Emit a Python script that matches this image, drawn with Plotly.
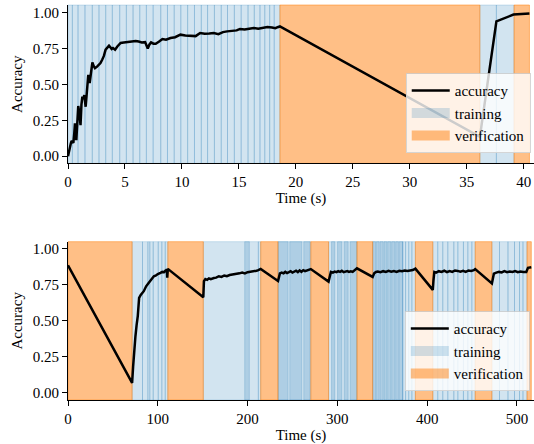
import plotly.graph_objects as go

# ---------------- data: top run ----------------
t_top = [0, 0.14, 0.25, 0.32, 0.47, 0.55, 0.61, 0.73, 0.82, 0.9, 1.0, 1.1, 1.18, 1.26, 1.35, 1.43,
         1.55, 1.65, 1.78, 1.9, 2.0, 2.14, 2.25, 2.37, 2.55, 2.72, 2.85, 3.0, 3.15, 3.3, 3.45, 3.6,
         3.72, 3.83, 3.95, 4.13, 4.33, 4.62, 4.9, 5.36, 5.65, 5.94, 6.2, 6.47, 6.77, 6.9, 7.0, 7.15,
         7.29, 7.5, 7.7, 8.0, 8.29, 8.6, 9.0, 9.4, 9.87, 10.3, 10.75, 11.2, 11.6, 12.0, 12.4, 12.8,
         13.2, 13.6, 13.97, 14.4, 14.8, 15.1, 15.5, 15.9, 16.3, 16.7, 17.1, 17.5, 17.9, 18.2, 18.4,
         18.6, 36.15, 37.6, 39.1, 40.5]
acc_top = [0.0, 0.065, 0.09, 0.107, 0.093, 0.16, 0.23, 0.112, 0.25, 0.35, 0.3, 0.217, 0.36, 0.415,
           0.40, 0.427, 0.345, 0.46, 0.567, 0.51, 0.58, 0.654, 0.63, 0.614, 0.625, 0.638, 0.65, 0.673,
           0.70, 0.743, 0.755, 0.771, 0.76, 0.748, 0.755, 0.743, 0.766, 0.79, 0.793, 0.80, 0.802,
           0.804, 0.800, 0.794, 0.796, 0.775, 0.752, 0.78, 0.794, 0.785, 0.785, 0.80, 0.818, 0.813,
           0.825, 0.83, 0.848, 0.842, 0.841, 0.838, 0.86, 0.855, 0.857, 0.86, 0.852, 0.866, 0.871,
           0.872, 0.878, 0.888, 0.885, 0.89, 0.895, 0.889, 0.897, 0.902, 0.898, 0.893, 0.9, 0.906,
           0.135, 0.941, 0.988, 0.995]

train_bounds_top = [0, 0.38, 0.88, 1.49, 2.13, 2.72, 3.31, 3.89, 4.54, 5.12, 5.71, 6.3, 6.88, 7.47,
                    8.14, 8.73, 9.32, 9.9, 10.5, 11.1, 11.7, 12.25, 12.85, 13.45, 14.0, 14.6, 15.2,
                    15.8, 16.35, 16.85, 17.27, 17.7, 18.1, 18.6]
train_extra_top = [[36.15, 37.6], [37.6, 39.15]]
verif_top = [[18.6, 36.15], [39.15, 40.5]]

# ---------------- data: bottom run ----------------
t_bot = [0, 71.4, 72.5, 73.2, 74.2, 75.1, 76.4, 77.7, 79.2, 81, 84.4, 87, 90, 92.5, 95.6, 98, 100,
         103, 105, 107, 108.5, 109.7, 110.1, 110.5, 111.2,
         150.7, 151.0, 151.4, 153, 155, 157, 159, 162.5, 165, 168, 171, 174, 177, 180, 184.8, 188,
         191, 194, 197, 200, 203, 207.1, 210, 212, 214.6,
         233.9, 235.0, 236, 238, 240, 242, 244, 246, 248, 250, 252, 254, 256, 258, 260, 262, 264,
         266, 268, 270.4,
         290.2, 291.5, 292.8, 295, 297, 299, 301, 303, 305, 307, 309, 311, 313, 315, 317, 319, 320.5,
         321.8,
         339.3, 341, 343, 345, 348, 351, 354, 357, 360, 363, 366, 369, 372, 375, 378, 381, 384, 386.9,
         406.3, 407, 408, 410, 413, 416, 419, 422, 425, 428, 431, 434, 437, 440, 443, 446, 449, 452,
         453.5,
         472.1, 473, 474.3, 477, 480, 483, 486, 489, 492, 495, 498, 501, 504, 507, 510.4, 512.3, 514,
         516]
acc_bot = [0.886, 0.069, 0.18, 0.254, 0.33, 0.393, 0.47, 0.532, 0.66, 0.68, 0.706, 0.74, 0.764,
           0.785, 0.81, 0.815, 0.825, 0.833, 0.84, 0.838, 0.848, 0.845, 0.86, 0.80, 0.861,
           0.664, 0.74, 0.775, 0.79, 0.785, 0.795, 0.79, 0.798, 0.80, 0.81, 0.805, 0.815, 0.81, 0.818,
           0.821, 0.828, 0.83, 0.835, 0.83, 0.838, 0.84, 0.845, 0.848, 0.852, 0.861,
           0.777, 0.81, 0.83, 0.835, 0.83, 0.84, 0.832, 0.838, 0.845, 0.835, 0.842, 0.848, 0.838,
           0.85, 0.84, 0.852, 0.845, 0.85, 0.855, 0.86,
           0.773, 0.81, 0.84, 0.835, 0.842, 0.838, 0.845, 0.84, 0.848, 0.838, 0.842, 0.846, 0.84,
           0.844, 0.84, 0.85, 0.855, 0.865,
           0.805, 0.83, 0.84, 0.842, 0.838, 0.845, 0.84, 0.848, 0.842, 0.846, 0.84, 0.848, 0.845,
           0.85, 0.846, 0.85, 0.853, 0.863,
           0.715, 0.78, 0.84, 0.835, 0.845, 0.84, 0.848, 0.838, 0.846, 0.84, 0.85, 0.847, 0.842,
           0.848, 0.84, 0.85, 0.846, 0.852, 0.86,
           0.76, 0.80, 0.828, 0.835, 0.84, 0.836, 0.845, 0.838, 0.842, 0.84, 0.846, 0.838, 0.843,
           0.84, 0.84, 0.868, 0.87, 0.872]

train_bot = [[71.4, 83], [83, 89], [89, 91.1], [91.1, 94.9], [94.9, 100.5], [100.5, 104.5],
             [104.5, 108.3], [108.3, 111.2],
             [150.7, 212], [212, 214.6], [196.8, 202],
             [233.9, 270.4], [233.9, 245.1], [247, 260.4], [262.6, 269.6],
             [290.2, 321.8], [293.5, 297.2], [300.2, 305], [307.6, 312], [314.3, 321.8],
             [339.3, 372.8], [339.3, 342.5], [343.5, 346.5], [347.5, 351], [352, 355], [356, 359.5],
             [360.5, 364], [365, 368], [369, 372.8],
             [372.8, 376], [376, 379.5], [379.5, 383], [383, 386.9],
             [406.3, 411.8], [411.8, 417.4], [417.4, 423], [423, 429.7], [429.7, 434.2],
             [434.2, 440.4], [440.4, 445.3], [445.3, 449.8], [449.8, 453.5],
             [472.1, 480.6], [480.6, 490], [490, 497.3], [497.3, 502.9], [502.9, 506.7],
             [506.7, 511.2]]
verif_bot = [[0, 71.4], [111.2, 150.7], [214.6, 233.9], [270.4, 290.2], [321.8, 339.3],
             [386.9, 406.3], [453.5, 472.1], [511.2, 516]]

x_ticks_top = [0, 5, 10, 15, 20, 25, 30, 35, 40]
x_ticks_bot = [0, 100, 200, 300, 400, 500]
y_ticks = [0, 0.25, 0.5, 0.75, 1.0]

# ---------------- styling ----------------
FONT = "Liberation Serif"
TRAIN = "rgba(31,119,180,0.2)"
VERIF = "rgba(255,127,14,0.5)"

fig = go.Figure()

train_top = [[a, b] for a, b in zip(train_bounds_top[:-1], train_bounds_top[1:])] + train_extra_top

shapes = []
def add_spans(spans, color, xref, yref):
    for a, b in spans:
        shapes.append(dict(type="rect", xref=xref, yref=yref, x0=a, x1=b, y0=0, y1=1,
                           fillcolor=color, line=dict(color=color, width=1), layer="below"))

add_spans(train_top, TRAIN, "x", "y domain")
add_spans(verif_top, VERIF, "x", "y domain")
add_spans(train_bot, TRAIN, "x2", "y2 domain")
add_spans(verif_bot, VERIF, "x2", "y2 domain")

for xa, ya, xs, ys, lg in [("x", "y", t_top, acc_top, "legend"),
                           ("x2", "y2", t_bot, acc_bot, "legend2")]:
    fig.add_trace(go.Scatter(x=xs, y=ys, mode="lines", name="accuracy",
                             line=dict(color="black", width=2.5), xaxis=xa, yaxis=ya,
                             legend=lg, hoverinfo="skip"))
    fig.add_trace(go.Scatter(x=[None], y=[None], mode="lines", name="training",
                             line=dict(color=TRAIN, width=10), xaxis=xa, yaxis=ya, legend=lg))
    fig.add_trace(go.Scatter(x=[None], y=[None], mode="lines", name="verification",
                             line=dict(color=VERIF, width=10), xaxis=xa, yaxis=ya, legend=lg))

axis_common = dict(showline=True, linecolor="black", linewidth=1, ticks="outside", ticklen=5,
                   tickwidth=1, tickcolor="black", showgrid=False, zeroline=False,
                   automargin=False,
                   tickfont=dict(family=FONT, size=15, color="black"))

legend_common = dict(xanchor="right", yanchor="bottom", bgcolor="rgba(255,255,255,0.8)",
                     bordercolor="rgba(204,204,204,0.8)", borderwidth=1, itemwidth=38,
                     tracegroupgap=0,
                     font=dict(family=FONT, size=15, color="black"))

fig.update_layout(
    width=534, height=444,
    margin=dict(l=68, r=0, t=5, b=44, autoexpand=False),
    paper_bgcolor="white", plot_bgcolor="white",
    font=dict(family=FONT, size=15, color="black"),
    shapes=shapes,
    xaxis=dict(domain=[0, 1], anchor="y", range=[0, 40.9], tickvals=x_ticks_top,
               title=dict(text="Time (s)", font=dict(family=FONT, size=15), standoff=3),
               **axis_common),
    yaxis=dict(domain=[0.599, 1], anchor="x", range=[-0.05, 1.055], tickvals=y_ticks,
               tickformat=".2f",
               title=dict(text="Accuracy", font=dict(family=FONT, size=15), standoff=6),
               **axis_common),
    xaxis2=dict(domain=[0, 1], anchor="y2", range=[0, 519], tickvals=x_ticks_bot,
                title=dict(text="Time (s)", font=dict(family=FONT, size=15), standoff=3),
                **axis_common),
    yaxis2=dict(domain=[0, 0.4008], anchor="x2", range=[-0.05, 1.05], tickvals=y_ticks,
                tickformat=".2f",
                title=dict(text="Accuracy", font=dict(family=FONT, size=15), standoff=6),
                **axis_common),
    legend=dict(x=0.993, y=0.625, **legend_common),
    legend2=dict(x=0.991, y=0.022, **legend_common),
    showlegend=True,
)

fig.write_html("out.html", config={"displayModeBar": False},
               post_script="document.body.style.margin='0';document.body.style.overflow='hidden';")
